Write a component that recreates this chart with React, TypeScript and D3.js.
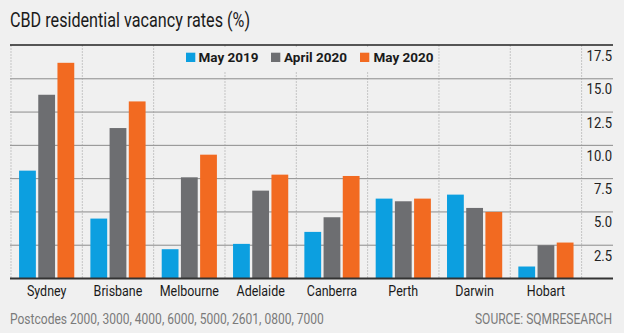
import React from "react";
import * as d3 from "d3";

const cities = ["Sydney", "Brisbane", "Melbourne", "Adelaide", "Canberra", "Perth", "Darwin", "Hobart"];
const seriesNames = ["May 2019", "April 2020", "May 2020"];
const may2019 = [8.1, 4.5, 2.2, 2.6, 3.5, 6.0, 6.3, 0.9];
const april2020 = [13.8, 11.3, 7.6, 6.6, 4.6, 5.8, 5.3, 2.5];
const may2020 = [16.2, 13.3, 9.3, 7.8, 7.7, 6.0, 5.0, 2.7];
const yTicks = [2.5, 5.0, 7.5, 10.0, 12.5, 15.0, 17.5];
const title = "CBD residential vacancy rates (%)";
const footnote = "Postcodes 2000, 3000, 4000, 6000, 5000, 2601, 0800, 7000";
const source = "SOURCE: SQMRESEARCH";

const W = 624;
const H = 333;
const colors = ["#0c9fe0", "#6d6e71", "#f26a21"];
const BG = "#f0f0f0";
const FONT = "Roboto, 'Noto Sans', sans-serif";
const CX = 0.86; // condensed factor

const plotLeft = 11;
const plotRight = 581.6;
const axisRight = 613;
const y0 = 278.5;
const yTop = 45.5;

const CText = ({ x, y, anchor, size, weight, fill, sx, children }: any) => (
  <text
    transform={`translate(${x},${y}) scale(${sx || CX},1)`}
    textAnchor={anchor || "start"}
    fontSize={size}
    fontWeight={weight || 400}
    fill={fill}
    fontFamily={FONT}
  >
    {children}
  </text>
);

export default function App() {
  const series = [may2019, april2020, may2020];
  const x = d3.scaleBand<string>().domain(cities).range([plotLeft, plotRight]).padding(0);
  const xi = d3
    .scaleBand<string>()
    .domain(seriesNames)
    .range([0, x.bandwidth()])
    .paddingInner(0.125)
    .paddingOuter(0.42);
  const y = d3.scaleLinear().domain([0, 17.5]).range([y0, yTop]);

  const boundaries = [...cities.map((c) => x(c) as number), plotRight];

  const legendItems = [
    { name: seriesNames[0], sx: 186, tx: 198.5 },
    { name: seriesNames[1], sx: 271, tx: 284 },
    { name: seriesNames[2], sx: 360, tx: 373.5 },
  ];

  return (
    <div style={{ position: "fixed", left: 0, top: 0 }}>
      <svg width={W} height={H} style={{ display: "block" }}>
        <rect x={0} y={0} width={W} height={H} fill={BG} />
        <CText x={10} y={26.5} size={19.5} sx={0.83} fill="#1a1a1a">
          {title}
        </CText>

        {/* gridlines */}
        {yTicks.slice(0, -1).map((t) => (
          <line key={t} x1={plotLeft - 1} x2={axisRight} y1={y(t)} y2={y(t)} stroke="#8c8c8c" strokeWidth={1} />
        ))}

        {/* dotted separators */}
        {boundaries.map((b, i) => (
          <line
            key={i}
            x1={b}
            x2={b}
            y1={yTop}
            y2={y0}
            stroke="#9a9a9a"
            strokeWidth={1}
            strokeDasharray="1 2"
          />
        ))}

        {/* legend background */}
        <rect x={180} y={47} width={256} height={24} fill={BG} />

        {/* bars */}
        {cities.map((c, ci) => (
          <g key={c} transform={`translate(${x(c)},0)`}>
            {series.map((s, si) => (
              <rect
                key={si}
                x={xi(seriesNames[si])}
                y={y(s[ci])}
                width={xi.bandwidth()}
                height={y0 - y(s[ci])}
                fill={colors[si]}
              />
            ))}
          </g>
        ))}

        {/* top line */}
        <line x1={plotLeft - 1} x2={axisRight} y1={yTop - 0.5} y2={yTop - 0.5} stroke="#222" strokeWidth={1.6} />
        {/* baseline */}
        <line x1={plotLeft - 1} x2={axisRight} y1={y0} y2={y0} stroke="#333" strokeWidth={2} />

        {/* y labels */}
        {yTicks.map((t) => (
          <CText key={t} x={axisRight - 1} y={y(t) + 15.5} anchor="end" size={14.5} sx={0.9} fill="#222">
            {d3.format(".1f")(t)}
          </CText>
        ))}

        {/* legend */}
        {legendItems.map((l, i) => (
          <g key={l.name}>
            <rect x={l.sx} y={52.7} width={9.3} height={9.3} fill={colors[i]} />
            <CText x={l.tx} y={62} size={13.5} weight={700} sx={1} fill="#1a1a1a">
              {l.name}
            </CText>
          </g>
        ))}

        {/* x labels */}
        {cities.map((c) => (
          <CText key={c} x={(x(c) as number) + x.bandwidth() / 2} y={295.5} anchor="middle" size={14.5} fill="#1a1a1a">
            {c}
          </CText>
        ))}

        {/* footer */}
        <CText x={10} y={324} size={14} fill="#7a7a7a">
          {footnote}
        </CText>
        <CText x={612} y={324} anchor="end" size={14} fill="#7a7a7a">
          {source}
        </CText>
      </svg>
    </div>
  );
}
